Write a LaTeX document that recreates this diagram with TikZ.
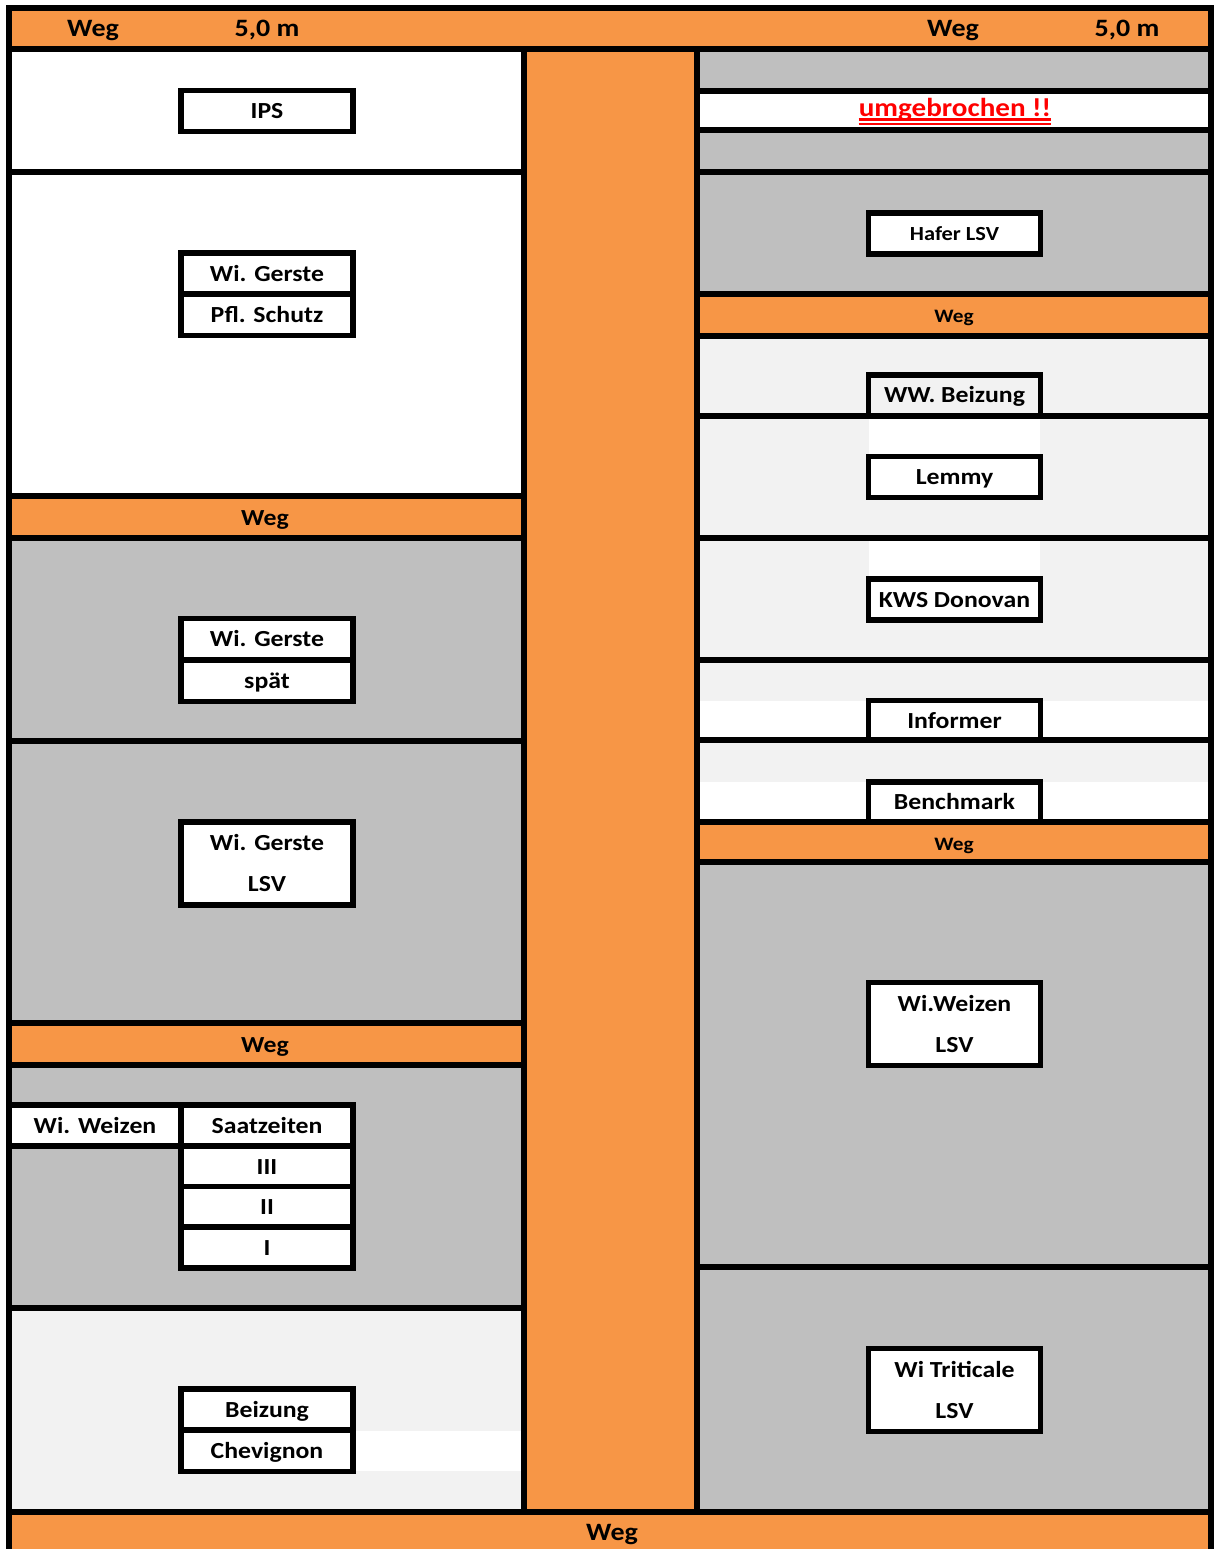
\documentclass[tikz,border=0pt]{standalone}
\usepackage{fontspec}
\setmainfont{Carlito}[FakeStretch=1.12]
\newcommand\lblfont{\bfseries\fontsize{23}{27}\selectfont}
\newcommand\bandfont{\bfseries\fontsize{25}{29}\selectfont}
\newcommand\redfont{\bfseries\fontsize{26}{30}\selectfont}
\newcommand\hafont{\bfseries\fontsize{20}{24}\selectfont}
\newcommand\wegsmall{\bfseries\fontsize{19}{22}\selectfont}
\definecolor{wegorange}{HTML}{F79646}
\definecolor{plotgray}{HTML}{BFBFBF}
\definecolor{plotlight}{HTML}{F2F2F2}
\begin{document}
\begin{tikzpicture}[x=1pt,y=-1pt,
  wall/.style={line width=5.5pt,black},
  cell/.style={draw,line width=5.5pt,fill=white,minimum width=172pt,minimum height=41pt,inner sep=0pt,text height=15pt,text depth=0pt,font=\lblfont},
  opencell/.style={minimum width=172pt,minimum height=40pt,inner sep=0pt,text height=15pt,text depth=0pt,font=\lblfont},
  lbl/.style={inner sep=0pt,text height=15pt,text depth=0pt,font=\lblfont},
  blbl/.style={inner sep=0pt,text height=16pt,text depth=0pt,font=\bandfont},
  wlbl/.style={inner sep=0pt,text height=12pt,text depth=0pt,font=\wegsmall}]
\useasboundingbox (0,0) rectangle (1213,1549);
\fill[white] (0,0) rectangle (1213,1549);
% base orange
\fill[wegorange] (9,8) rectangle (1211,1549);
% left column plots
\fill[white] (9,49) rectangle (524,496);
\fill[plotgray] (9,538) rectangle (524,1023);
\fill[plotgray] (9,1065) rectangle (524,1308);
\fill[plotlight] (9,1308) rectangle (524,1512);
\fill[white] (353,1431) rectangle (524,1471);
% right column plots
\fill[plotgray] (697,49) rectangle (1211,294);
\fill[white] (697,91) rectangle (1211,130);
\fill[plotlight] (697,336) rectangle (1211,822);
\fill[white] (869,415) rectangle (1040,456);
\fill[white] (869,538) rectangle (1040,579);
\fill[white] (697,701) rectangle (1211,740);
\fill[white] (697,782) rectangle (1211,822);
\fill[plotgray] (697,862) rectangle (1211,1512);
% frame and walls
\draw[wall] (9,1549) -- (9,8) -- (1211,8) -- (1211,1549);
\draw[wall] (9,49) -- (1211,49);
\draw[wall] (9,1512) -- (1211,1512);
\draw[wall] (524,49) -- (524,1512);
\draw[wall] (697,49) -- (697,1512);
\foreach \yy in {172,496,538,741,1023,1065,1308}
  \draw[wall] (9,\yy) -- (524,\yy);
\foreach \yy in {91,130,172,294,336,416,538,660,740,822,862,1267}
  \draw[wall] (697,\yy) -- (1211,\yy);
% band labels
\node[blbl] (wegTL) at (93,29) {Weg};
\node[blbl] (distTL) at (267,29) {5,0 m};
\node[blbl] (wegTR) at (953,29) {Weg};
\node[blbl] (distTR) at (1127,29) {5,0 m};
\node[lbl] (wegL1) at (265,518) {Weg};
\node[lbl] (wegL2) at (265,1045) {Weg};
\node[wlbl] (wegR1) at (954,316) {Weg};
\node[wlbl] (wegR2) at (954,844) {Weg};
\node[blbl] (wegB) at (612,1532) {Weg};
% left boxes
\node[cell] (ips) at (267,111) {IPS};
\node[cell] (wg1) at (267,273.5) {Wi. Gerste};
\node[cell] (pfl) at (267,315) {Pfl. Schutz};
\node[cell] (wg2) at (267,639) {Wi. Gerste};
\node[cell] (spaet) at (267,681) {spät};
\node[cell,minimum height=83pt] (wglsv) at (267,863.5) {};
\node[lbl] (wglsvA) at (267,843) {Wi. Gerste};
\node[lbl] (wglsvB) at (267,884) {LSV};
\node[cell,minimum width=172pt] (wwz) at (95,1125.5) {Wi. Weizen};
\node[cell] (saat) at (267,1125.5) {Saatzeiten};
\node[cell] (s3) at (267,1166.5) {III};
\node[cell] (s2) at (267,1207) {II};
\node[cell] (s1) at (267,1247.5) {I};
\node[cell] (beiz) at (267,1409.5) {Beizung};
\node[cell] (chev) at (267,1451) {Chevignon};
\draw[wall] (9,1105) -- (9,1146);
% right boxes
\node[inner sep=0pt,font=\redfont,text=red,anchor=base] (umg) at (955,117) {umgebrochen !!};
\draw[red,line width=2.3pt] ([yshift=-2.5pt]umg.base west) -- ([yshift=-2.5pt]umg.base east);
\draw[red,line width=2.3pt] ([yshift=-7pt]umg.base west) -- ([yshift=-7pt]umg.base east);
\node[cell,font=\hafont,text height=13pt] (hafer) at (954.5,233.5) {Hafer LSV};
\node[opencell] (wwb) at (954.5,395) {WW. Beizung};
\draw[wall] (wwb.south west) -- (wwb.north west) -- (wwb.north east) -- (wwb.south east);
\node[cell] (lemmy) at (954.5,477) {Lemmy};
\node[cell] (kws) at (954.5,599.5) {KWS Donovan};
\node[opencell] (inf) at (954.5,720.5) {Informer};
\draw[wall] (inf.south west) -- (inf.north west) -- (inf.north east) -- (inf.south east);
\node[opencell] (bench) at (954.5,802) {Benchmark};
\draw[wall] (bench.south west) -- (bench.north west) -- (bench.north east) -- (bench.south east);
\node[cell,minimum height=83pt] (wwlsv) at (954.5,1024) {};
\node[lbl] (wwlsvA) at (954.5,1004) {Wi.Weizen};
\node[lbl] (wwlsvB) at (954.5,1045) {LSV};
\node[cell,minimum height=83pt] (trit) at (954.5,1390) {};
\node[lbl] (tritA) at (954.5,1370) {Wi Triticale};
\node[lbl] (tritB) at (954.5,1411) {LSV};
\end{tikzpicture}
\end{document}
